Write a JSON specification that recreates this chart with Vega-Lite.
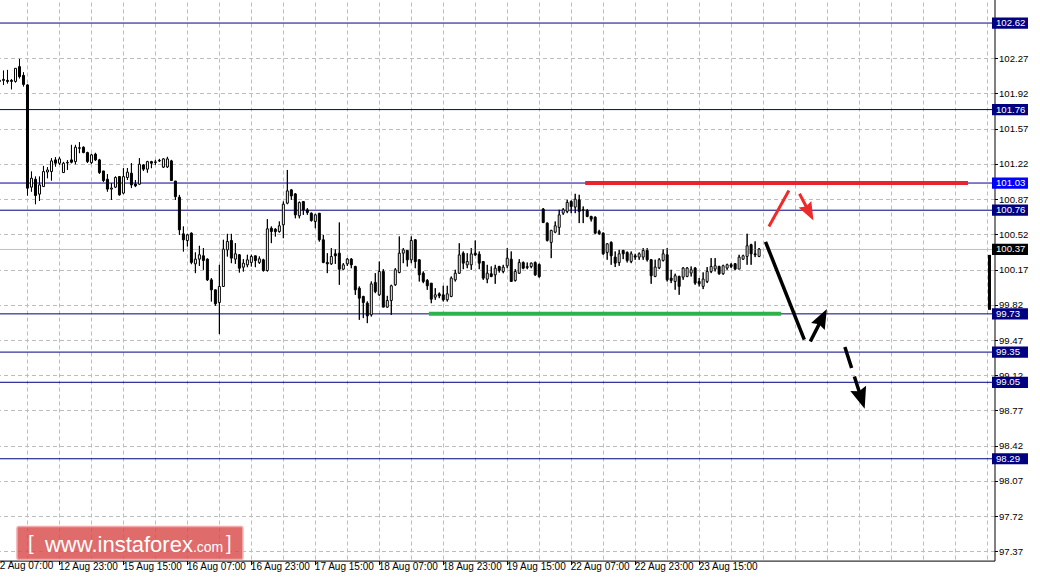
{
"$schema": "https://vega.github.io/schema/vega-lite/v6.json",
"width": 999.5, "height": 565.6,
"autosize": {"type": "none"},
"padding": {"left": -5, "top": -5, "right": 45.5, "bottom": 17.4},
"background": "white",
"config": {"view": {"stroke": null}, "font": "Liberation Sans"},
"datasets": {
"candles": [
{"i":0,"o":102.04,"h":102.07,"l":102.03,"c":102.05},{"i":1,"o":102.05,"h":102.147,"l":102.005,"c":102.06},{"i":2,"o":102.05,"h":102.154,"l":102.02,"c":102.04},{"i":3,"o":102.05,"h":102.062,"l":101.962,"c":102.04},{"i":4,"o":102.04,"h":102.17,"l":102.03,"c":102.17},{"i":5,"o":102.187,"h":102.263,"l":102.07,"c":102.087},{"i":6,"o":102.1,"h":102.13,"l":101.99,"c":102.01},{"i":7,"o":102.005,"h":102.01,"l":100.906,"c":100.979},{"i":8,"o":100.989,"h":101.144,"l":100.945,"c":101.078},{"i":9,"o":101.068,"h":101.094,"l":100.82,"c":100.906},
{"i":10,"o":100.92,"h":101.094,"l":100.853,"c":101.012},{"i":11,"o":100.995,"h":101.2,"l":100.995,"c":101.144},{"i":12,"o":101.14,"h":101.188,"l":101.078,"c":101.16},{"i":13,"o":101.144,"h":101.277,"l":101.055,"c":101.25},{"i":14,"o":101.26,"h":101.287,"l":101.194,"c":101.227},{"i":15,"o":101.227,"h":101.29,"l":101.21,"c":101.27},{"i":16,"o":101.134,"h":101.24,"l":101.13,"c":101.227},{"i":17,"o":101.23,"h":101.257,"l":101.16,"c":101.235},{"i":18,"o":101.26,"h":101.409,"l":101.227,"c":101.237},{"i":19,"o":101.243,"h":101.409,"l":101.217,"c":101.386},
{"i":20,"o":101.38,"h":101.436,"l":101.327,"c":101.376},{"i":21,"o":101.386,"h":101.393,"l":101.327,"c":101.333},{"i":22,"o":101.333,"h":101.34,"l":101.23,"c":101.243},{"i":23,"o":101.233,"h":101.32,"l":101.22,"c":101.31},{"i":24,"o":101.317,"h":101.33,"l":101.25,"c":101.26},{"i":25,"o":101.26,"h":101.27,"l":101.12,"c":101.134},{"i":26,"o":101.15,"h":101.15,"l":101.04,"c":101.055},{"i":27,"o":101.068,"h":101.118,"l":100.945,"c":100.97},{"i":28,"o":100.97,"h":101.029,"l":100.863,"c":100.98},{"i":29,"o":100.989,"h":101.095,"l":100.98,"c":101.085},
{"i":30,"o":101.094,"h":101.1,"l":100.906,"c":100.913},{"i":31,"o":100.93,"h":101.178,"l":100.92,"c":101.094},{"i":32,"o":101.085,"h":101.178,"l":101.06,"c":101.138},{"i":33,"o":101.128,"h":101.227,"l":100.98,"c":101.012},{"i":34,"o":101.02,"h":101.06,"l":100.99,"c":101.002},{"i":35,"o":101.019,"h":101.277,"l":101.012,"c":101.217},{"i":36,"o":101.21,"h":101.217,"l":101.15,"c":101.168},{"i":37,"o":101.168,"h":101.25,"l":101.134,"c":101.243},{"i":38,"o":101.243,"h":101.25,"l":101.178,"c":101.227},{"i":39,"o":101.235,"h":101.26,"l":101.21,"c":101.24},
{"i":40,"o":101.255,"h":101.27,"l":101.24,"c":101.25},{"i":41,"o":101.188,"h":101.277,"l":101.18,"c":101.27},{"i":42,"o":101.19,"h":101.29,"l":101.18,"c":101.27},{"i":43,"o":101.25,"h":101.26,"l":101.05,"c":101.055},{"i":44,"o":101.05,"h":101.05,"l":100.863,"c":100.895},{"i":45,"o":100.889,"h":100.912,"l":100.515,"c":100.565},{"i":46,"o":100.525,"h":100.598,"l":100.35,"c":100.466},{"i":47,"o":100.459,"h":100.525,"l":100.4,"c":100.515},{"i":48,"o":100.532,"h":100.538,"l":100.224,"c":100.241},{"i":49,"o":100.227,"h":100.34,"l":100.135,"c":100.274},
{"i":50,"o":100.274,"h":100.406,"l":100.207,"c":100.317},{"i":51,"o":100.307,"h":100.383,"l":100.168,"c":100.26},{"i":52,"o":100.274,"h":100.28,"l":100.058,"c":100.068},{"i":53,"o":100.068,"h":100.085,"l":99.853,"c":99.969},{"i":54,"o":99.969,"h":99.97,"l":99.81,"c":99.83},{"i":55,"o":99.843,"h":100.217,"l":99.529,"c":100.002},{"i":56,"o":100.002,"h":100.466,"l":100.0,"c":100.373},{"i":57,"o":100.366,"h":100.525,"l":100.3,"c":100.449},{"i":58,"o":100.459,"h":100.525,"l":100.234,"c":100.284},{"i":59,"o":100.274,"h":100.433,"l":100.227,"c":100.327},
{"i":60,"o":100.317,"h":100.323,"l":100.141,"c":100.184},{"i":61,"o":100.194,"h":100.274,"l":100.151,"c":100.234},{"i":62,"o":100.217,"h":100.317,"l":100.194,"c":100.267},{"i":63,"o":100.241,"h":100.317,"l":100.201,"c":100.3},{"i":64,"o":100.307,"h":100.307,"l":100.194,"c":100.26},{"i":65,"o":100.241,"h":100.3,"l":100.227,"c":100.277},{"i":66,"o":100.267,"h":100.277,"l":100.151,"c":100.161},{"i":67,"o":100.161,"h":100.671,"l":100.151,"c":100.575},{"i":68,"o":100.581,"h":100.598,"l":100.433,"c":100.548},{"i":69,"o":100.571,"h":100.581,"l":100.499,"c":100.548},
{"i":70,"o":100.548,"h":100.648,"l":100.538,"c":100.605},{"i":71,"o":100.615,"h":100.846,"l":100.482,"c":100.82},{"i":72,"o":100.83,"h":101.16,"l":100.82,"c":100.952},{"i":73,"o":100.962,"h":100.969,"l":100.863,"c":100.902},{"i":74,"o":100.922,"h":100.929,"l":100.68,"c":100.714},{"i":75,"o":100.704,"h":100.846,"l":100.68,"c":100.836},{"i":76,"o":100.846,"h":100.846,"l":100.714,"c":100.763},{"i":77,"o":100.763,"h":100.78,"l":100.714,"c":100.737},{"i":78,"o":100.73,"h":100.737,"l":100.648,"c":100.658},{"i":79,"o":100.648,"h":100.724,"l":100.581,"c":100.714},
{"i":80,"o":100.73,"h":100.73,"l":100.449,"c":100.466},{"i":81,"o":100.466,"h":100.515,"l":100.234,"c":100.241},{"i":82,"o":100.241,"h":100.333,"l":100.135,"c":100.227},{"i":83,"o":100.227,"h":100.383,"l":100.217,"c":100.3},{"i":84,"o":100.327,"h":100.373,"l":100.227,"c":100.307},{"i":85,"o":100.333,"h":100.638,"l":100.019,"c":100.174},{"i":86,"o":100.174,"h":100.234,"l":100.168,"c":100.217},{"i":87,"o":100.227,"h":100.284,"l":100.207,"c":100.274},{"i":88,"o":100.274,"h":100.284,"l":100.184,"c":100.217},{"i":89,"o":100.201,"h":100.207,"l":99.919,"c":99.969},
{"i":90,"o":99.985,"h":100.002,"l":99.671,"c":99.886},{"i":91,"o":99.903,"h":99.909,"l":99.688,"c":99.843},{"i":92,"o":99.836,"h":99.853,"l":99.638,"c":99.71},{"i":93,"o":99.721,"h":100.052,"l":99.704,"c":100.028},{"i":94,"o":100.042,"h":100.134,"l":99.936,"c":99.952},{"i":95,"o":99.919,"h":100.25,"l":99.909,"c":100.151},{"i":96,"o":100.151,"h":100.174,"l":99.797,"c":99.797},{"i":97,"o":99.797,"h":99.909,"l":99.79,"c":99.863},{"i":98,"o":99.863,"h":100.019,"l":99.72,"c":100.009},{"i":99,"o":100.019,"h":100.184,"l":100.009,"c":100.168},
{"i":100,"o":100.141,"h":100.499,"l":100.134,"c":100.333},{"i":101,"o":100.333,"h":100.383,"l":100.234,"c":100.366},{"i":102,"o":100.36,"h":100.36,"l":100.201,"c":100.267},{"i":103,"o":100.267,"h":100.499,"l":100.234,"c":100.459},{"i":104,"o":100.466,"h":100.472,"l":100.184,"c":100.25},{"i":105,"o":100.267,"h":100.273,"l":100.052,"c":100.118},{"i":106,"o":100.134,"h":100.151,"l":100.035,"c":100.052},{"i":107,"o":100.062,"h":100.075,"l":99.969,"c":100.009},{"i":108,"o":100.035,"h":100.035,"l":99.836,"c":99.876},{"i":109,"o":99.896,"h":99.985,"l":99.87,"c":99.919},
{"i":110,"o":99.929,"h":99.942,"l":99.886,"c":99.909},{"i":111,"o":99.919,"h":100.009,"l":99.853,"c":99.87},{"i":112,"o":99.87,"h":100.009,"l":99.853,"c":99.929},{"i":113,"o":99.903,"h":100.101,"l":99.896,"c":100.085},{"i":114,"o":100.068,"h":100.168,"l":100.052,"c":100.134},{"i":115,"o":100.134,"h":100.432,"l":100.128,"c":100.316},{"i":116,"o":100.333,"h":100.35,"l":100.174,"c":100.234},{"i":117,"o":100.217,"h":100.333,"l":100.184,"c":100.25},{"i":118,"o":100.217,"h":100.383,"l":100.168,"c":100.326},{"i":119,"o":100.333,"h":100.459,"l":100.307,"c":100.316},
{"i":120,"o":100.323,"h":100.35,"l":100.174,"c":100.234},{"i":121,"o":100.25,"h":100.25,"l":100.068,"c":100.085},{"i":122,"o":100.075,"h":100.217,"l":100.035,"c":100.134},{"i":123,"o":100.128,"h":100.201,"l":100.095,"c":100.101},{"i":124,"o":100.118,"h":100.217,"l":100.029,"c":100.184},{"i":125,"o":100.201,"h":100.207,"l":100.141,"c":100.161},{"i":126,"o":100.151,"h":100.217,"l":100.134,"c":100.194},{"i":127,"o":100.207,"h":100.383,"l":100.184,"c":100.283},{"i":128,"o":100.273,"h":100.35,"l":100.052,"c":100.052},{"i":129,"o":100.062,"h":100.174,"l":100.052,"c":100.151},
{"i":130,"o":100.134,"h":100.273,"l":100.128,"c":100.24},{"i":131,"o":100.24,"h":100.25,"l":100.174,"c":100.184},{"i":132,"o":100.19,"h":100.24,"l":100.174,"c":100.2},{"i":133,"o":100.2,"h":100.24,"l":100.184,"c":100.234},{"i":134,"o":100.24,"h":100.25,"l":100.108,"c":100.118},{"i":135,"o":100.22,"h":100.23,"l":100.09,"c":100.1},{"i":136,"o":100.771,"h":100.781,"l":100.632,"c":100.638},{"i":137,"o":100.632,"h":100.638,"l":100.45,"c":100.46},{"i":138,"o":100.44,"h":100.565,"l":100.284,"c":100.559},{"i":139,"o":100.542,"h":100.648,"l":100.532,"c":100.605},
{"i":140,"o":100.589,"h":100.764,"l":100.516,"c":100.714},{"i":141,"o":100.731,"h":100.781,"l":100.714,"c":100.764},{"i":142,"o":100.748,"h":100.863,"l":100.731,"c":100.837},{"i":143,"o":100.847,"h":100.857,"l":100.731,"c":100.797},{"i":144,"o":100.791,"h":100.923,"l":100.731,"c":100.87},{"i":145,"o":100.863,"h":100.913,"l":100.632,"c":100.748},{"i":146,"o":100.764,"h":100.797,"l":100.632,"c":100.76},{"i":147,"o":100.757,"h":100.771,"l":100.691,"c":100.698},{"i":148,"o":100.698,"h":100.704,"l":100.648,"c":100.671},{"i":149,"o":100.691,"h":100.698,"l":100.526,"c":100.532},
{"i":150,"o":100.549,"h":100.565,"l":100.516,"c":100.526},{"i":151,"o":100.532,"h":100.539,"l":100.317,"c":100.327},{"i":152,"o":100.34,"h":100.433,"l":100.268,"c":100.426},{"i":153,"o":100.44,"h":100.45,"l":100.218,"c":100.307},{"i":154,"o":100.294,"h":100.35,"l":100.195,"c":100.234},{"i":155,"o":100.24,"h":100.367,"l":100.208,"c":100.327},{"i":156,"o":100.36,"h":100.367,"l":100.274,"c":100.327},{"i":157,"o":100.34,"h":100.35,"l":100.241,"c":100.261},{"i":158,"o":100.251,"h":100.35,"l":100.234,"c":100.327},{"i":159,"o":100.307,"h":100.327,"l":100.267,"c":100.294},
{"i":160,"o":100.294,"h":100.34,"l":100.267,"c":100.327},{"i":161,"o":100.294,"h":100.383,"l":100.267,"c":100.36},{"i":162,"o":100.36,"h":100.383,"l":100.251,"c":100.268},{"i":163,"o":100.268,"h":100.274,"l":100.029,"c":100.109},{"i":164,"o":100.102,"h":100.268,"l":100.095,"c":100.195},{"i":165,"o":100.188,"h":100.284,"l":100.175,"c":100.268},{"i":166,"o":100.261,"h":100.373,"l":100.251,"c":100.327},{"i":167,"o":100.317,"h":100.383,"l":100.052,"c":100.069},{"i":168,"o":100.085,"h":100.168,"l":100.036,"c":100.062},{"i":169,"o":100.052,"h":100.129,"l":99.97,"c":100.109},
{"i":170,"o":100.102,"h":100.109,"l":99.92,"c":100.003},{"i":171,"o":100.095,"h":100.195,"l":100.069,"c":100.185},{"i":172,"o":100.102,"h":100.195,"l":100.095,"c":100.185},{"i":173,"o":100.135,"h":100.201,"l":100.102,"c":100.168},{"i":174,"o":100.185,"h":100.195,"l":100.02,"c":100.036},{"i":175,"o":100.052,"h":100.086,"l":100.003,"c":100.029},{"i":176,"o":100.003,"h":100.142,"l":99.976,"c":100.076},{"i":177,"o":100.052,"h":100.195,"l":100.036,"c":100.152},{"i":178,"o":100.152,"h":100.284,"l":100.135,"c":100.201},{"i":179,"o":100.175,"h":100.284,"l":100.152,"c":100.208},
{"i":180,"o":100.201,"h":100.208,"l":100.119,"c":100.129},{"i":181,"o":100.129,"h":100.218,"l":100.119,"c":100.208},{"i":182,"o":100.185,"h":100.228,"l":100.168,"c":100.218},{"i":183,"o":100.218,"h":100.234,"l":100.185,"c":100.201},{"i":184,"o":100.228,"h":100.234,"l":100.168,"c":100.175},{"i":185,"o":100.175,"h":100.317,"l":100.175,"c":100.294},{"i":186,"o":100.274,"h":100.317,"l":100.267,"c":100.307},{"i":187,"o":100.301,"h":100.526,"l":100.218,"c":100.407},{"i":188,"o":100.417,"h":100.426,"l":100.218,"c":100.327},{"i":189,"o":100.327,"h":100.45,"l":100.294,"c":100.317},
{"i":190,"o":100.301,"h":100.384,"l":100.294,"c":100.374}
],
"levels": [
{"price":102.62,"kind":"level"},{"price":101.76,"kind":"level"},{"price":101.03,"kind":"key"},{"price":100.76,"kind":"level"},{"price":100.37,"kind":"bid"},{"price":99.73,"kind":"level"},{"price":99.35,"kind":"level"},{"price":99.05,"kind":"level"},{"price":98.29,"kind":"level"}
],
"annot": [
{"id":"red","i":146.5,"p":101.03},{"id":"red","i":242.25,"p":101.03},
{"id":"green","i":107.4,"p":99.73},{"id":"green","i":195.5,"p":99.73},
{"id":"redseg","i":192.45,"p":100.598},{"id":"redseg","i":197.45,"p":100.955},
{"id":"redshaft","i":200.1,"p":100.923},{"id":"redshaft","i":202.7,"p":100.728},
{"id":"redtip","i":203.6,"p":100.657},
{"id":"blackline","i":191.6,"p":100.446},{"id":"blackline","i":201.3,"p":99.473},
{"id":"upshaft","i":202.8,"p":99.456},{"id":"upshaft","i":206.05,"p":99.707},
{"id":"uptip","i":206.95,"p":99.778},
{"id":"dashshaft","i":211.45,"p":99.4},{"id":"dashshaft","i":215.8,"p":98.863},
{"id":"dashtip","i":216.4,"p":98.788}
]
},
"resolve": {"axis": {"x": "independent", "y": "independent"}},
"layer": [
{"data": {"name": "candles"},
 "mark": {"type": "rule", "color": "black", "strokeWidth": 1},
 "encoding": {
  "x": {"field": "i", "type": "quantitative", "scale": {"domain": [0.125, 247.625], "nice": false, "zero": false},
   "axis": {"orient": "bottom", "title": null, "zindex": 0,
    "values": [7, 15, 23, 31, 39, 47, 55, 63, 71, 79, 87, 95, 103, 111, 119, 127, 135, 143, 151, 159, 167, 175, 183, 191, 199, 207, 215, 223, 231, 239, 247],
    "grid": true, "gridColor": "#bdbdbd", "gridDash": [4, 3],
    "domainColor": "black", "tickColor": "black", "tickSize": 4,
    "tickOpacity": {"condition": {"test": "datum.value % 16 == 15 && datum.value <= 175", "value": 1}, "value": 0},
    "labelExpr": "datum.value % 16 == 15 && datum.value <= 175 ? ['12 Aug 23:00','15 Aug 15:00','16 Aug 07:00','16 Aug 23:00','17 Aug 15:00','18 Aug 07:00','18 Aug 23:00','19 Aug 15:00','22 Aug 07:00','22 Aug 23:00','23 Aug 15:00'][(datum.value - 15) / 16] : ''",
    "labelAlign": "left", "labelFont": "Liberation Sans", "labelFontSize": 10, "labelColor": "black",
    "labelPadding": -3, "labelOverlap": false, "labelFlush": false, "labelBound": false, "labelOffset": -1
   }},
  "y": {"field": "l", "type": "quantitative", "scale": {"domain": [97.3277, 102.849], "nice": false, "zero": false},
   "axis": {"orient": "right", "title": null, "zindex": 0,
    "values": [97.37, 97.72, 98.07, 98.42, 98.77, 99.12, 99.47, 99.82, 100.17, 100.52, 100.87, 101.22, 101.57, 101.92, 102.27],
    "format": ".2f", "grid": true, "gridColor": "#bdbdbd", "gridDash": [4, 3],
    "domainColor": "black", "tickColor": "black", "tickSize": 3,
    "labelFont": "Liberation Sans", "labelFontSize": 9.6, "labelColor": "black", "labelPadding": 1,
    "labelAlign": "left", "labelBaseline": "middle", "labelOverlap": false, "labelBound": false, "labelFlush": false
   }},
  "y2": {"field": "h"}
 }},
{"data": {"values": [{"t": "12 Aug 07:00"}]},
 "mark": {"type": "text", "align": "left", "baseline": "top", "fontSize": 10, "color": "black", "font": "Liberation Sans"},
 "encoding": {
  "x": {"datum": -1.3, "type": "quantitative", "scale": {"domain": [0.125, 247.625], "nice": false, "zero": false}, "axis": null},
  "y": {"datum": 97.279, "type": "quantitative", "scale": {"domain": [97.3277, 102.849], "nice": false, "zero": false}, "axis": null},
  "text": {"field": "t"}
 }},
{"data": {"name": "levels"},
 "mark": {"type": "rule", "strokeWidth": 1},
 "encoding": {
  "y": {"field": "price", "type": "quantitative", "scale": {"domain": [97.3277, 102.849], "nice": false, "zero": false}, "axis": null},
  "color": {"field": "kind", "type": "nominal", "scale": {"domain": ["level", "key", "bid"], "range": ["#000080", "#000098", "#c0c0c0"]}, "legend": null}
 }},
{"data": {"name": "candles"},
 "mark": {"type": "rule", "color": "black", "strokeWidth": 1},
 "encoding": {
  "x": {"field": "i", "type": "quantitative", "scale": {"domain": [0.125, 247.625], "nice": false, "zero": false}, "axis": null},
  "y": {"field": "l", "type": "quantitative", "scale": {"domain": [97.3277, 102.849], "nice": false, "zero": false}, "axis": null},
  "y2": {"field": "h"}
 }},
{"data": {"name": "candles"},
 "mark": {"type": "bar", "width": 2, "stroke": "black", "strokeWidth": 1},
 "encoding": {
  "x": {"field": "i", "type": "quantitative", "scale": {"domain": [0.125, 247.625], "nice": false, "zero": false}, "axis": null},
  "y": {"field": "o", "type": "quantitative", "scale": {"domain": [97.3277, 102.849], "nice": false, "zero": false}, "axis": null},
  "y2": {"field": "c"},
  "fill": {"condition": {"test": "datum.c >= datum.o", "value": "white"}, "value": "black"}
 }},
{"data": {"values": [{"part": "axis marker"}]},
 "mark": {"type": "rule", "strokeWidth": 3, "color": "black"},
 "encoding": {
  "x": {"datum": 247.625, "type": "quantitative", "scale": {"domain": [0.125, 247.625], "nice": false, "zero": false}, "axis": null},
  "y": {"datum": 100.316, "type": "quantitative", "scale": {"domain": [97.3277, 102.849], "nice": false, "zero": false}, "axis": null},
  "y2": {"datum": 99.77}
 }},
{"data": {"name": "annot"}, "transform": [{"filter": "datum.id == 'red'"}],
 "mark": {"type": "line", "color": "#e8252e", "strokeWidth": 4},
 "encoding": {
  "x": {"field": "i", "type": "quantitative", "scale": {"domain": [0.125, 247.625], "nice": false, "zero": false}, "axis": null},
  "y": {"field": "p", "type": "quantitative", "scale": {"domain": [97.3277, 102.849], "nice": false, "zero": false}, "axis": null}
 }},
{"data": {"name": "annot"}, "transform": [{"filter": "datum.id == 'green'"}],
 "mark": {"type": "line", "color": "#2fb24c", "strokeWidth": 4},
 "encoding": {
  "x": {"field": "i", "type": "quantitative", "scale": {"domain": [0.125, 247.625], "nice": false, "zero": false}, "axis": null},
  "y": {"field": "p", "type": "quantitative", "scale": {"domain": [97.3277, 102.849], "nice": false, "zero": false}, "axis": null}
 }},
{"data": {"name": "annot"}, "transform": [{"filter": "datum.id == 'redseg' || datum.id == 'redshaft'"}],
 "mark": {"type": "line", "color": "#ee2a2a", "strokeWidth": 3},
 "encoding": {
  "x": {"field": "i", "type": "quantitative", "scale": {"domain": [0.125, 247.625], "nice": false, "zero": false}, "axis": null},
  "y": {"field": "p", "type": "quantitative", "scale": {"domain": [97.3277, 102.849], "nice": false, "zero": false}, "axis": null},
  "detail": {"field": "id", "type": "nominal"}
 }},
{"data": {"name": "annot"}, "transform": [{"filter": "datum.id == 'redtip'"}],
 "mark": {"type": "point", "shape": "M0,0L0.7,1.8L0,1.55L-0.7,1.8Z", "filled": true, "color": "#ee2a2a", "opacity": 1, "strokeWidth": 0, "size": 420, "angle": 152.3},
 "encoding": {
  "x": {"field": "i", "type": "quantitative", "scale": {"domain": [0.125, 247.625], "nice": false, "zero": false}, "axis": null},
  "y": {"field": "p", "type": "quantitative", "scale": {"domain": [97.3277, 102.849], "nice": false, "zero": false}, "axis": null}
 }},
{"data": {"name": "annot"}, "transform": [{"filter": "datum.id == 'blackline' || datum.id == 'upshaft'"}],
 "mark": {"type": "line", "color": "black", "strokeWidth": 3.5},
 "encoding": {
  "x": {"field": "i", "type": "quantitative", "scale": {"domain": [0.125, 247.625], "nice": false, "zero": false}, "axis": null},
  "y": {"field": "p", "type": "quantitative", "scale": {"domain": [97.3277, 102.849], "nice": false, "zero": false}, "axis": null},
  "detail": {"field": "id", "type": "nominal"}
 }},
{"data": {"name": "annot"}, "transform": [{"filter": "datum.id == 'uptip'"}],
 "mark": {"type": "point", "shape": "M0,0L0.7,1.8L0,1.55L-0.7,1.8Z", "filled": true, "color": "black", "opacity": 1, "strokeWidth": 0, "size": 480, "angle": 27.1},
 "encoding": {
  "x": {"field": "i", "type": "quantitative", "scale": {"domain": [0.125, 247.625], "nice": false, "zero": false}, "axis": null},
  "y": {"field": "p", "type": "quantitative", "scale": {"domain": [97.3277, 102.849], "nice": false, "zero": false}, "axis": null}
 }},
{"data": {"name": "annot"}, "transform": [{"filter": "datum.id == 'dashshaft'"}],
 "mark": {"type": "line", "color": "black", "strokeWidth": 3.5, "strokeDash": [22, 9]},
 "encoding": {
  "x": {"field": "i", "type": "quantitative", "scale": {"domain": [0.125, 247.625], "nice": false, "zero": false}, "axis": null},
  "y": {"field": "p", "type": "quantitative", "scale": {"domain": [97.3277, 102.849], "nice": false, "zero": false}, "axis": null}
 }},
{"data": {"name": "annot"}, "transform": [{"filter": "datum.id == 'dashtip'"}],
 "mark": {"type": "point", "shape": "M0,0L0.7,1.8L0,1.55L-0.7,1.8Z", "filled": true, "color": "black", "opacity": 1, "strokeWidth": 0, "size": 560, "angle": 162.3},
 "encoding": {
  "x": {"field": "i", "type": "quantitative", "scale": {"domain": [0.125, 247.625], "nice": false, "zero": false}, "axis": null},
  "y": {"field": "p", "type": "quantitative", "scale": {"domain": [97.3277, 102.849], "nice": false, "zero": false}, "axis": null}
 }},
{"data": {"values": [{"part": "watermark"}]},
 "mark": {"type": "rect", "fill": "#d94a4a", "fillOpacity": 0.82, "stroke": "#f2aaaa", "strokeWidth": 1.5, "cornerRadius": 2},
 "encoding": {
  "x": {"datum": 4.375, "type": "quantitative", "scale": {"domain": [0.125, 247.625], "nice": false, "zero": false}, "axis": null},
  "x2": {"datum": 60.875},
  "y": {"datum": 97.616, "type": "quantitative", "scale": {"domain": [97.3277, 102.849], "nice": false, "zero": false}, "axis": null},
  "y2": {"datum": 97.288}
 }},
{"data": {"values": [{"t": "www.instaforex"}]},
 "mark": {"type": "text", "align": "left", "baseline": "alphabetic", "fontSize": 22, "color": "white", "font": "Liberation Sans"},
 "encoding": {
  "x": {"datum": 11.375, "type": "quantitative", "scale": {"domain": [0.125, 247.625], "nice": false, "zero": false}, "axis": null},
  "y": {"datum": 97.361, "type": "quantitative", "scale": {"domain": [97.3277, 102.849], "nice": false, "zero": false}, "axis": null},
  "text": {"field": "t"}
 }},
{"data": {"values": [{"t": ".com"}]},
 "mark": {"type": "text", "align": "left", "baseline": "alphabetic", "fontSize": 14, "color": "white", "font": "Liberation Sans"},
 "encoding": {
  "x": {"datum": 48.375, "type": "quantitative", "scale": {"domain": [0.125, 247.625], "nice": false, "zero": false}, "axis": null},
  "y": {"datum": 97.361, "type": "quantitative", "scale": {"domain": [97.3277, 102.849], "nice": false, "zero": false}, "axis": null},
  "text": {"field": "t"}
 }},
{"data": {"values": [{"t": "[", "x": 7.125}, {"t": "]", "x": 56.625}]},
 "mark": {"type": "text", "align": "left", "baseline": "alphabetic", "fontSize": 20, "color": "white", "font": "Liberation Sans"},
 "encoding": {
  "x": {"field": "x", "type": "quantitative", "scale": {"domain": [0.125, 247.625], "nice": false, "zero": false}, "axis": null},
  "y": {"datum": 97.379, "type": "quantitative", "scale": {"domain": [97.3277, 102.849], "nice": false, "zero": false}, "axis": null},
  "text": {"field": "t"}
 }},
{"data": {"name": "levels"},
 "mark": {"type": "bar", "height": 11.2},
 "encoding": {
  "x": {"datum": 248.25, "type": "quantitative", "scale": {"domain": [0.125, 247.625], "nice": false, "zero": false}, "axis": null},
  "x2": {"datum": 257.25},
  "y": {"field": "price", "type": "quantitative", "scale": {"domain": [97.3277, 102.849], "nice": false, "zero": false}, "axis": null},
  "fill": {"field": "kind", "type": "nominal", "scale": {"domain": ["level", "key", "bid"], "range": ["#000080", "#0000ff", "#000000"]}, "legend": null}
 }},
{"data": {"name": "levels"},
 "mark": {"type": "text", "align": "left", "baseline": "middle", "fontSize": 9.6, "color": "white", "font": "Liberation Sans"},
 "encoding": {
  "x": {"datum": 249.25, "type": "quantitative", "scale": {"domain": [0.125, 247.625], "nice": false, "zero": false}, "axis": null},
  "y": {"field": "price", "type": "quantitative", "scale": {"domain": [97.3277, 102.849], "nice": false, "zero": false}, "axis": null},
  "text": {"field": "price", "type": "quantitative", "format": ".2f"}
 }}
]
}
